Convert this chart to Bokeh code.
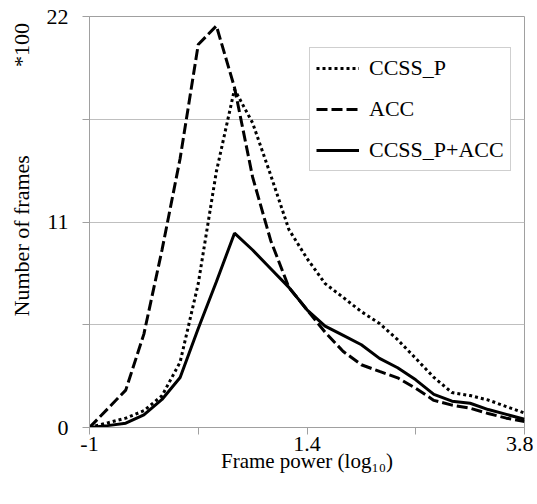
import math
from bokeh.plotting import figure
from bokeh.models import FixedTicker, Range1d
from bokeh.embed import file_html
from bokeh.resources import INLINE

# Frame power (log10) categories
frame_power = [-1.0, -0.8, -0.6, -0.4, -0.2, 0.0, 0.2, 0.4, 0.6, 0.8, 1.0, 1.2,
               1.4, 1.6, 1.8, 2.0, 2.2, 2.4, 2.6, 2.8, 3.0, 3.2, 3.4, 3.6, 3.8]
# Number of frames (*100)
ccss_p = [0, 0.25, 0.5, 0.9, 1.7, 3.5, 7.7, 13.7, 18.1, 16.3, 13.5, 10.6, 9.05,
          7.7, 6.96, 6.2, 5.57, 4.7, 3.7, 2.68, 1.87, 1.71, 1.47, 1.12, 0.77]
acc = [0, 1.0, 2.0, 5.0, 9.5, 14.4, 20.5, 21.5, 18.2, 13.4, 10.0, 7.5, 6.3,
       5.1, 4.07, 3.36, 3.0, 2.66, 2.1, 1.45, 1.2, 1.03, 0.75, 0.5, 0.32]
ccss_p_acc = [0, 0.1, 0.23, 0.68, 1.5, 2.68, 5.3, 7.8, 10.4, 9.5, 8.5, 7.5, 6.3,
              5.43, 4.93, 4.43, 3.7, 3.2, 2.55, 1.77, 1.41, 1.30, 0.96, 0.70, 0.44]

x_major = [-1, 1.4, 3.8]
x_minor = [0.2, 2.6]
x_labels = ["-1", "1.4", "3.8"]
y_major = [0, 11, 22]
y_minor = [5.5, 16.5]
y_labels = ["0", "11", "22"]

x_title = "Frame power (log\u2081\u2080)"
y_title = "Number of frames"
y_unit = "*100"

FONT = "Liberation Serif"
GRID = "#bfbfbf"
AXIS = "#a0a0a0"
NBSP = "\u00a0"

p = figure(width=533, height=480, output_backend="svg", toolbar_location=None,
           x_range=Range1d(-1, 3.8), y_range=Range1d(0, 22),
           min_border_left=89, min_border_right=9, min_border_top=16,
           min_border_bottom=53)
p.background_fill_color = "white"
p.border_fill_color = "white"
p.outline_line_color = AXIS

p.line(frame_power, ccss_p, line_color="black", line_width=3, line_dash="3 3",
       legend_label="CCSS_P")
p.line(frame_power, acc, line_color="black", line_width=3, line_dash="11 4",
       legend_label="ACC")
p.line(frame_power, ccss_p_acc, line_color="black", line_width=3,
       legend_label="CCSS_P+ACC")

# axes
p.xaxis.ticker = FixedTicker(ticks=x_major, minor_ticks=x_minor)
p.yaxis.ticker = FixedTicker(ticks=y_major, minor_ticks=y_minor)
p.xaxis.major_label_overrides = dict(zip(x_major, x_labels))
p.yaxis.major_label_overrides = dict(zip(y_major, y_labels))
for ax in (p.xaxis, p.yaxis):
    ax.axis_line_color = AXIS
    ax.major_tick_line_color = AXIS
    ax.minor_tick_line_color = AXIS
    ax.major_tick_out = 7
    ax.major_tick_in = 0
    ax.minor_tick_out = 7
    ax.minor_tick_in = 0
    ax.major_label_text_font = FONT
    ax.major_label_text_font_size = "22px"
    ax.major_label_text_color = "black"
    ax.axis_label_text_font = FONT
    ax.axis_label_text_font_size = "22px"
    ax.axis_label_text_font_style = "normal"
    ax.axis_label_text_color = "black"
p.yaxis.major_label_standoff = 14
p.xaxis.major_label_standoff = 2
p.xaxis.axis_label = x_title
p.xaxis.axis_label_text_font_size = "21px"
# y title and the "*100" unit share the rotated axis-title line
p.yaxis.axis_label = NBSP * 19 + y_title + NBSP * 16 + y_unit
p.xaxis.axis_label_standoff = -5
p.yaxis.axis_label_standoff = 10

p.xgrid.grid_line_color = None
p.ygrid.grid_line_color = GRID
p.ygrid.minor_grid_line_color = GRID

lg = p.legend[0]
lg.location = (220, 256)
lg.border_line_color = AXIS
lg.border_line_width = 1
lg.background_fill_alpha = 1
lg.padding = 6
lg.margin = 0
lg.spacing = 13
lg.glyph_width = 43
lg.glyph_height = 28
lg.label_height = 28
lg.label_standoff = 10
lg.label_text_font = FONT
lg.label_text_font_size = "22px"
lg.label_text_color = "black"

open("out.html", "w").write(file_html(p, INLINE))
